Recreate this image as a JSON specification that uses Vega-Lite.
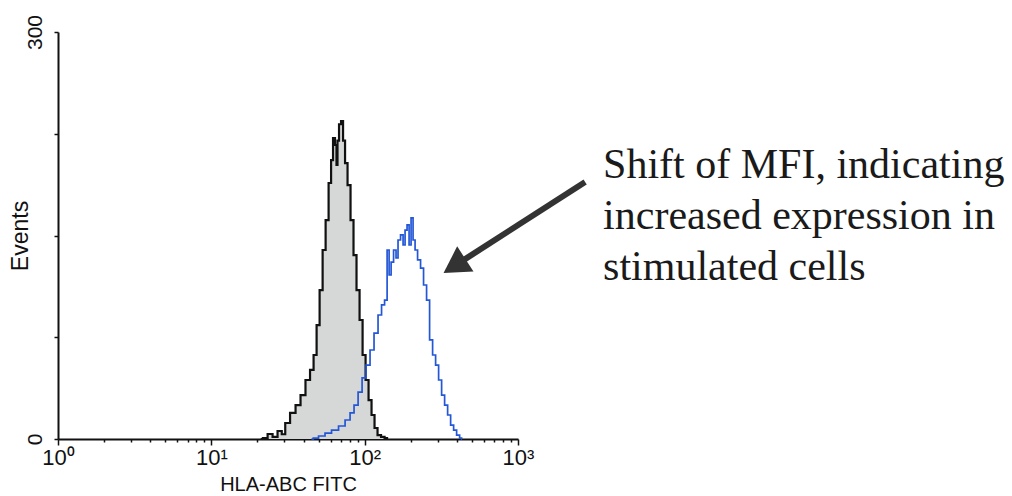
{
  "$schema": "https://vega.github.io/schema/vega-lite/v6.json",
  "width": 460,
  "height": 407,
  "autosize": {"type": "none"},
  "padding": {"left": 58, "top": 32, "right": 494, "bottom": 57},
  "background": "white",
  "config": {
    "view": {"stroke": null},
    "font": "Liberation Sans"
  },
  "datasets": {
    "ctrl": [
      {"x": 21, "y": 0}, {"x": 22.4, "y": 0.7}, {"x": 24.2, "y": 3.7}, {"x": 26.0, "y": 1.5}, {"x": 28.1, "y": 5.9}, {"x": 29.5, "y": 3.5},
      {"x": 31.2, "y": 11.8}, {"x": 34.1, "y": 19.2}, {"x": 36.8, "y": 25}, {"x": 39.6, "y": 32.4}, {"x": 42.7, "y": 43.5},
      {"x": 45.4, "y": 50.9}, {"x": 47.5, "y": 61.9}, {"x": 49.7, "y": 84}, {"x": 52.0, "y": 109.8}, {"x": 54.4, "y": 139.3},
      {"x": 56.9, "y": 161.4}, {"x": 59.5, "y": 188.7}, {"x": 61.3, "y": 205.6}, {"x": 63.1, "y": 221.8}, {"x": 65.0, "y": 216.7},
      {"x": 66.0, "y": 202}, {"x": 67.0, "y": 220}, {"x": 69.1, "y": 232}, {"x": 71.2, "y": 234.4}, {"x": 73.4, "y": 220},
      {"x": 75.6, "y": 203.4}, {"x": 79.1, "y": 187.2}, {"x": 82.7, "y": 161.4}, {"x": 86.5, "y": 135.6}, {"x": 90.5, "y": 109.8},
      {"x": 94.8, "y": 87.7}, {"x": 99.1, "y": 61.9}, {"x": 103.7, "y": 43.5}, {"x": 108.4, "y": 28.7}, {"x": 113.4, "y": 17.7},
      {"x": 118.6, "y": 8.1}, {"x": 124.1, "y": 2.9}, {"x": 131.8, "y": 1.5}, {"x": 138, "y": 0.7}, {"x": 142, "y": 0}
    ],
    "stim": [
      {"x": 45, "y": 0}, {"x": 47.5, "y": 0.7}, {"x": 52.7, "y": 2.2}, {"x": 57.7, "y": 4.4}, {"x": 64.1, "y": 6.6}, {"x": 71.2, "y": 9.6},
      {"x": 78.0, "y": 14}, {"x": 82.7, "y": 19.2}, {"x": 87.9, "y": 25}, {"x": 93.4, "y": 34.6}, {"x": 99.1, "y": 45},
      {"x": 105.2, "y": 54.5}, {"x": 111.7, "y": 65.6}, {"x": 118.6, "y": 78.1}, {"x": 126, "y": 91.4}, {"x": 131.8, "y": 98.8},
      {"x": 138, "y": 102.4}, {"x": 142.2, "y": 139.3}, {"x": 146.5, "y": 120.9}, {"x": 151, "y": 130.4}, {"x": 157.8, "y": 139.3},
      {"x": 162.6, "y": 133.4}, {"x": 167.5, "y": 146.7}, {"x": 175.4, "y": 150.4}, {"x": 180.7, "y": 143}, {"x": 186.2, "y": 154},
      {"x": 191.9, "y": 157.8}, {"x": 197.8, "y": 143}, {"x": 203.7, "y": 163}, {"x": 210, "y": 146.7}, {"x": 216.4, "y": 139.3},
      {"x": 226.4, "y": 132}, {"x": 236.7, "y": 126}, {"x": 247.7, "y": 113.5}, {"x": 259.2, "y": 102.4}, {"x": 271.2, "y": 73},
      {"x": 283.7, "y": 61.9}, {"x": 296.8, "y": 54.5}, {"x": 310.5, "y": 43.5}, {"x": 324.8, "y": 32.4}, {"x": 339.8, "y": 25},
      {"x": 355.5, "y": 17.7}, {"x": 371.9, "y": 10.3}, {"x": 389, "y": 6.6}, {"x": 406.9, "y": 2.9}, {"x": 425.6, "y": 0.7}, {"x": 432, "y": 0}
    ],
    "note": [
      {"x": 3589, "y": 192.4, "t": "Shift of MFI, indicating"},
      {"x": 3589, "y": 154.8, "t": "increased expression in"},
      {"x": 3589, "y": 117.2, "t": "stimulated cells"}
    ],
    "arrow": [
      {"x": 2740, "y": 189.4},
      {"x": 399, "y": 128.7}
    ],
    "head": [
      {"x": 385, "y": 127.5}
    ]
  },
  "encoding": {
    "x": {
      "field": "x",
      "type": "quantitative",
      "scale": {"type": "log", "domain": [1, 1000], "nice": false},
      "axis": {
        "title": "HLA-ABC FITC",
        "titleFont": "Liberation Sans",
        "titleFontSize": 20,
        "titleFontWeight": "normal",
        "titleColor": "#111",
        "titlePadding": 6,
        "values": [1, 2, 3, 4, 5, 6, 7, 8, 9, 10, 20, 30, 40, 50, 60, 70, 80, 90, 100, 200, 300, 400, 500, 600, 700, 800, 900, 1000],
        "labelExpr": "datum.value == 1 ? '10⁰' : datum.value == 10 ? '10¹' : datum.value == 100 ? '10²' : datum.value == 1000 ? '10³' : ''",
        "labelFont": "Liberation Sans",
        "labelFontSize": 22,
        "labelColor": "#111",
        "labelFlush": false,
        "labelOverlap": false,
        "labelPadding": 2,
        "labelDx": 6,
        "tickColor": "#111",
        "tickWidth": 1.5,
        "tickSize": {"condition": {"test": "datum.value == 1 || datum.value == 10 || datum.value == 100 || datum.value == 1000", "value": 6}, "value": 3},
        "domainColor": "#111",
        "domainWidth": 2,
        "grid": false
      }
    },
    "y": {
      "field": "y",
      "type": "quantitative",
      "scale": {"domain": [0, 300], "nice": false},
      "axis": {
        "title": "Events",
        "titleFont": "Liberation Sans",
        "titleFontSize": 23,
        "titleFontWeight": "normal",
        "titleColor": "#111",
        "titlePadding": -8,
        "values": [0, 75, 150, 225, 300],
        "labelExpr": "datum.value == 0 || datum.value == 300 ? datum.label : ''",
        "labelAngle": 270,
        "labelAlign": "center",
        "labelBaseline": "bottom",
        "labelFont": "Liberation Sans",
        "labelFontSize": 21,
        "labelColor": "#111",
        "labelPadding": 9,
        "labelFlush": false,
        "labelOverlap": false,
        "tickSize": 4,
        "tickWidth": 1.5,
        "tickColor": "#111",
        "domainColor": "#111",
        "domainWidth": 2,
        "grid": false
      }
    }
  },
  "layer": [
    {
      "data": {"name": "ctrl"},
      "mark": {"type": "area", "interpolate": "step", "color": "#d6d8d8", "opacity": 1}
    },
    {
      "data": {"name": "ctrl"},
      "mark": {"type": "line", "interpolate": "step", "color": "#111111", "strokeWidth": 2.2}
    },
    {
      "data": {"name": "stim"},
      "mark": {"type": "line", "interpolate": "step", "color": "#2457d6", "strokeWidth": 1.7}
    },
    {
      "data": {"name": "arrow"},
      "mark": {"type": "line", "color": "#333333", "strokeWidth": 6, "clip": false}
    },
    {
      "data": {"name": "head"},
      "mark": {"type": "point", "shape": "triangle-up", "filled": true, "color": "#333333", "opacity": 1, "size": 900, "angle": 237, "clip": false}
    },
    {
      "data": {"name": "note"},
      "mark": {"type": "text", "align": "left", "baseline": "alphabetic", "font": "Liberation Serif", "fontSize": 42, "color": "#1a1a1a", "clip": false},
      "encoding": {"text": {"field": "t", "type": "nominal"}}
    }
  ]
}
